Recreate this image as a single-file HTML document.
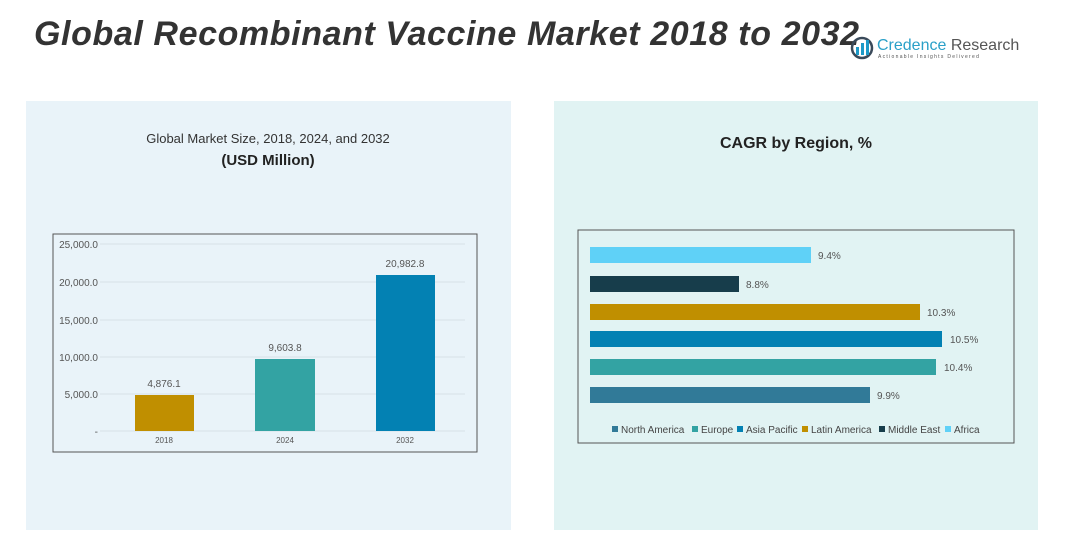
<!DOCTYPE html>
<html><head><meta charset="utf-8"><style>
body{margin:0;width:1092px;height:557px;background:#fff;position:relative;overflow:hidden;font-family:"Liberation Sans",sans-serif}
.a{position:absolute}
</style></head><body>
<div class="a" style="left:26px;top:101px;width:485px;height:429px;background:#e9f3f9"></div>
<div class="a" style="left:554px;top:101px;width:484px;height:429px;background:#e1f3f3"></div>
<div class="a" style="left:34px;top:15px;font-size:34px;font-weight:bold;font-style:italic;color:#333;white-space:nowrap;letter-spacing:0.6px">Global Recombinant Vaccine Market 2018 to 2032</div>
<svg class="a" style="left:0;top:0" width="1092" height="557">
<g font-family="Liberation Sans, sans-serif">
<circle cx="862" cy="48" r="10" fill="none" stroke="#3a4a5a" stroke-width="2.5"/>
<rect x="856" y="47" width="3" height="8" fill="#1d9ac8"/><rect x="861" y="43" width="3" height="12" fill="#1d9ac8"/><rect x="866" y="40" width="3" height="15" fill="#1d9ac8"/>
<text x="877" y="50" font-size="16" fill="#2aa0c8">Credence <tspan fill="#555">Research</tspan></text>
<text x="878" y="58" font-size="5" fill="#555" letter-spacing="1.3">Actionable Insights Delivered</text>
<text x="268" y="143" font-size="13" fill="#333" text-anchor="middle">Global Market Size, 2018, 2024, and 2032</text>
<text x="268" y="165" font-size="15" font-weight="bold" fill="#222" text-anchor="middle">(USD Million)</text>
<text x="796" y="148" font-size="16" font-weight="bold" fill="#222" text-anchor="middle">CAGR by Region, %</text>
<rect x="53" y="234" width="424" height="218" fill="none" stroke="#555" stroke-width="1"/>
<g stroke="#d8e2e8" stroke-width="1">
<line x1="100" x2="465" y1="244" y2="244"/><line x1="100" x2="465" y1="282" y2="282"/><line x1="100" x2="465" y1="320" y2="320"/><line x1="100" x2="465" y1="357" y2="357"/><line x1="100" x2="465" y1="394" y2="394"/><line x1="100" x2="465" y1="431" y2="431"/></g>
<g font-size="10" fill="#555" text-anchor="end">
<text x="98" y="248">25,000.0</text><text x="98" y="286">20,000.0</text><text x="98" y="324">15,000.0</text><text x="98" y="361">10,000.0</text><text x="98" y="398">5,000.0</text><text x="98" y="435">-</text></g>
<rect x="135" y="395" width="59" height="36" fill="#c08f00"/>
<rect x="255" y="359" width="60" height="72" fill="#33a3a3"/>
<rect x="376" y="275" width="59" height="156" fill="#0381b3"/>
<g font-size="10" fill="#555" text-anchor="middle">
<text x="164" y="387">4,876.1</text><text x="285" y="351">9,603.8</text><text x="405" y="267">20,982.8</text>
<text x="164" y="443" font-size="8">2018</text><text x="285" y="443" font-size="8">2024</text><text x="405" y="443" font-size="8">2032</text></g>
<rect x="578" y="230" width="436" height="213" fill="none" stroke="#555" stroke-width="1"/>
<rect x="590" y="247" width="221" height="16" fill="#5fd1f7"/>
<rect x="590" y="276" width="149" height="16" fill="#173d4b"/>
<rect x="590" y="304" width="330" height="16" fill="#c08f00"/>
<rect x="590" y="331" width="352" height="16" fill="#0381b3"/>
<rect x="590" y="359" width="346" height="16" fill="#33a3a3"/>
<rect x="590" y="387" width="280" height="16" fill="#317a98"/>
<g font-size="10" fill="#555">
<text x="818" y="259">9.4%</text><text x="746" y="288">8.8%</text><text x="927" y="316">10.3%</text><text x="950" y="343">10.5%</text><text x="944" y="371">10.4%</text><text x="877" y="399">9.9%</text></g>
<g font-size="10" fill="#444">
<rect x="612" y="426" width="6" height="6" fill="#317a98"/><text x="621" y="433">North America</text>
<rect x="692" y="426" width="6" height="6" fill="#33a3a3"/><text x="701" y="433">Europe</text>
<rect x="737" y="426" width="6" height="6" fill="#0381b3"/><text x="746" y="433">Asia Pacific</text>
<rect x="802" y="426" width="6" height="6" fill="#c08f00"/><text x="811" y="433">Latin America</text>
<rect x="879" y="426" width="6" height="6" fill="#173d4b"/><text x="888" y="433">Middle East</text>
<rect x="945" y="426" width="6" height="6" fill="#5fd1f7"/><text x="954" y="433">Africa</text></g>
</g></svg>
</body></html>
